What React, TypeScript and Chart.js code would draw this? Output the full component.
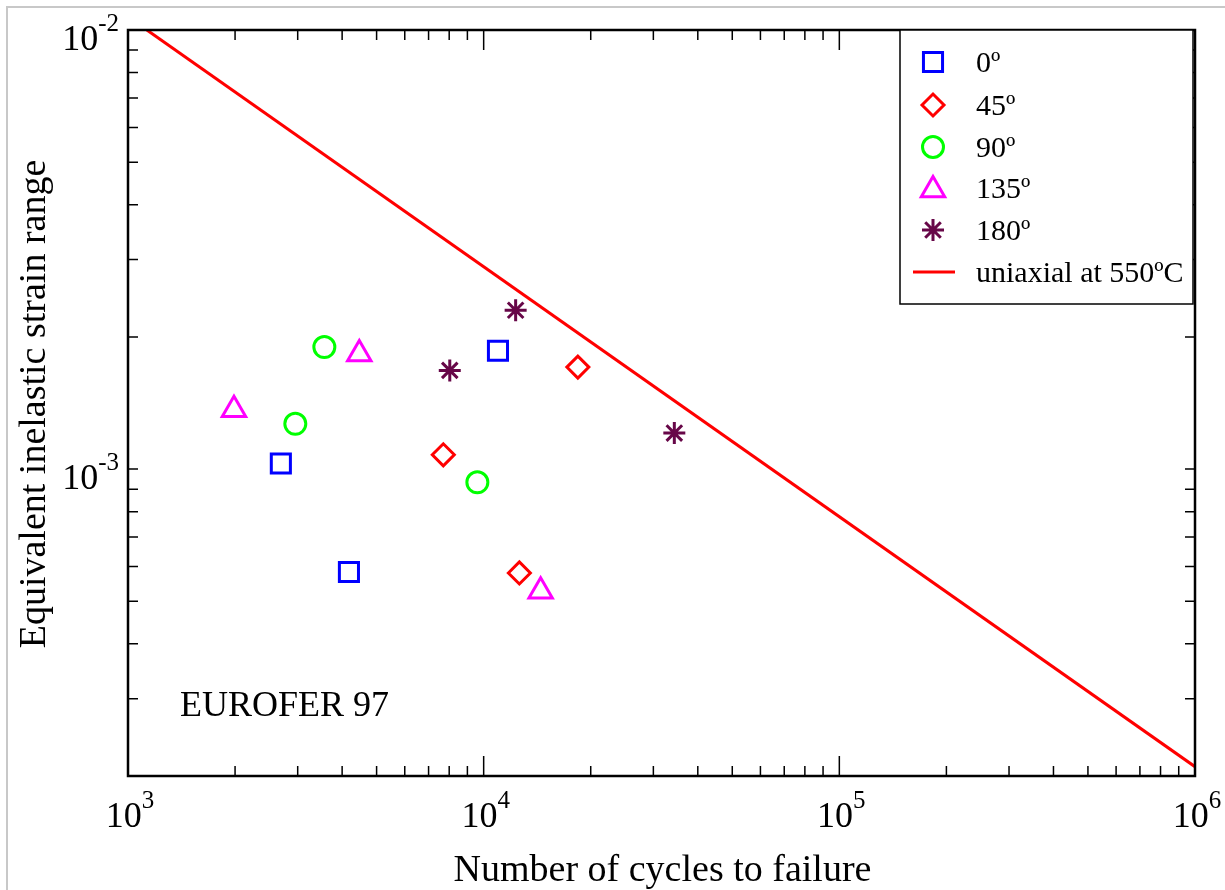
import React, { useEffect, useRef } from "react";
import { Chart, registerables } from "chart.js";

Chart.register(...registerables);

// ---- data ----
const SERIES_LABELS = ["0º", "45º", "90º", "135º", "180º"];
const LINE_LABEL = "uniaxial at 550ºC";

const cycles0 = [2690, 4180, 10970];
const strain0 = [1.03e-3, 5.83e-4, 1.86e-3];

const cycles45 = [7700, 12600, 18400];
const strain45 = [1.078e-3, 5.8e-4, 1.707e-3];

const cycles90 = [3565, 2954, 9600];
const strain90 = [1.896e-3, 1.268e-3, 9.33e-4];

const cycles135 = [4470, 1986, 14460];
const strain135 = [1.828e-3, 1.365e-3, 5.27e-4];

const cycles180 = [12300, 8030, 34360];
const strain180 = [2.3e-3, 1.678e-3, 1.208e-3];

const uniaxialCycles = [1130, 1e6];
const uniaxialStrain = [1.0e-2, 2.1e-4];

const X_TICKS = [1e3, 1e4, 1e5, 1e6];
const X_TICK_EXP = ["3", "4", "5", "6"];
const Y_TICKS = [1e-3, 1e-2];
const Y_TICK_EXP = ["-3", "-2"];

const X_TITLE = "Number of cycles to failure";
const Y_TITLE = "Equivalent inelastic strain range";
const ANNOTATION = "EUROFER 97";

// ---- styles ----
const FONT = '"Liberation Serif", "Times New Roman", Times, serif';
const COLORS = ["#0000ff", "#ff0000", "#00ff00", "#ff00ff", "rgb(103,7,72)"];
const STYLES = ["rect", "rectRot", "circle", "triangle", "star"];
const RADII = [13.5, 11, 10.5, 13.5, 11];

function pts(xs: number[], ys: number[]) {
  return xs.map((x, i) => ({ x, y: ys[i] }));
}

function drawMarker(ctx: CanvasRenderingContext2D, style: string, x: number, y: number, r: number) {
  ctx.beginPath();
  if (style === "rect") {
    const s = Math.SQRT1_2 * r;
    ctx.rect(x - s, y - s, 2 * s, 2 * s);
  } else if (style === "rectRot") {
    ctx.moveTo(x - r, y);
    ctx.lineTo(x, y - r);
    ctx.lineTo(x + r, y);
    ctx.lineTo(x, y + r);
    ctx.closePath();
  } else if (style === "circle") {
    ctx.arc(x, y, r, 0, Math.PI * 2);
    ctx.closePath();
  } else if (style === "triangle") {
    let rad = 0;
    ctx.moveTo(x + Math.sin(rad) * r, y - Math.cos(rad) * r);
    rad += (2 * Math.PI) / 3;
    ctx.lineTo(x + Math.sin(rad) * r, y - Math.cos(rad) * r);
    rad += (2 * Math.PI) / 3;
    ctx.lineTo(x + Math.sin(rad) * r, y - Math.cos(rad) * r);
    ctx.closePath();
  } else if (style === "star") {
    for (let k = 0; k < 4; k++) {
      const a = (k * Math.PI) / 4;
      ctx.moveTo(x - Math.cos(a) * r, y - Math.sin(a) * r);
      ctx.lineTo(x + Math.cos(a) * r, y + Math.sin(a) * r);
    }
  }
  ctx.stroke();
}

function drawPow(ctx: CanvasRenderingContext2D, exp: string, x: number, y: number, align: "center" | "right") {
  ctx.font = `36px ${FONT}`;
  const w1 = ctx.measureText("10").width;
  ctx.font = `25px ${FONT}`;
  const w2 = ctx.measureText(exp).width;
  const total = w1 + w2;
  const x0 = align === "center" ? x - total / 2 : x - total;
  ctx.textAlign = "left";
  ctx.textBaseline = "alphabetic";
  ctx.fillStyle = "#000";
  ctx.font = `36px ${FONT}`;
  ctx.fillText("10", x0, y);
  ctx.font = `25px ${FONT}`;
  ctx.fillText(exp, x0 + w1, y - 19);
}

const decorPlugin = {
  id: "decor",
  afterDatasetsDraw(chart: any) {
    const { ctx, chartArea: a, scales } = chart;
    const xs = scales.x;
    const ys = scales.y;
    ctx.save();

    // page frame (light gray)
    ctx.strokeStyle = "#c8c8c8";
    ctx.lineWidth = 2;
    ctx.beginPath();
    ctx.moveTo(6, 7);
    ctx.lineTo(chart.width, 7);
    ctx.moveTo(7, 6);
    ctx.lineTo(7, chart.height);
    ctx.stroke();

    // ticks
    ctx.strokeStyle = "#000";
    ctx.lineWidth = 1.5;
    ctx.beginPath();
    for (let d = 3; d <= 6; d++) {
      for (let m = 1; m <= 9; m++) {
        const v = m * Math.pow(10, d);
        if (v > xs.max * 1.0001) break;
        const px = xs.getPixelForValue(v);
        const len = m === 1 ? 20 : 10;
        ctx.moveTo(px, a.bottom);
        ctx.lineTo(px, a.bottom - len);
        ctx.moveTo(px, a.top);
        ctx.lineTo(px, a.top + len);
      }
    }
    for (let d = -4; d <= -2; d++) {
      for (let m = 1; m <= 9; m++) {
        const v = m * Math.pow(10, d);
        if (v < ys.min * 0.9999) continue;
        if (v > ys.max * 1.0001) break;
        const py = ys.getPixelForValue(v);
        ctx.moveTo(a.left, py);
        ctx.lineTo(a.left + 10, py);
        ctx.moveTo(a.right, py);
        ctx.lineTo(a.right - 10, py);
      }
    }
    ctx.stroke();

    // axes frame
    ctx.lineWidth = 2.5;
    ctx.strokeRect(a.left, a.top, a.right - a.left, a.bottom - a.top);

    // tick labels
    X_TICKS.forEach((v, i) => drawPow(ctx, X_TICK_EXP[i], xs.getPixelForValue(v) + 2, a.bottom + 51, "center"));
    Y_TICKS.forEach((v, i) => drawPow(ctx, Y_TICK_EXP[i], a.left - 9, ys.getPixelForValue(v) + 20, "right"));

    // axis titles
    ctx.fillStyle = "#000";
    ctx.font = `38px ${FONT}`;
    ctx.textAlign = "center";
    ctx.textBaseline = "alphabetic";
    ctx.fillText(X_TITLE, (a.left + a.right) / 2 + 1, 881);
    ctx.save();
    ctx.translate(45, (a.top + a.bottom) / 2 + 1);
    ctx.rotate(-Math.PI / 2);
    ctx.fillText(Y_TITLE, 0, 0);
    ctx.restore();

    // annotation
    ctx.font = `36px ${FONT}`;
    ctx.textAlign = "left";
    ctx.fillText(ANNOTATION, 180, 716);

    // legend
    const lx = 900;
    const ly = a.top;
    const lw = a.right - 2 - lx;
    const lh = 274;
    ctx.fillStyle = "#fff";
    ctx.fillRect(lx, ly, lw, lh);
    ctx.strokeStyle = "#000";
    ctx.lineWidth = 1.5;
    ctx.strokeRect(lx, ly, lw, lh);
    const rowY = [62, 105, 147, 188, 230, 272];
    chart.data.datasets.forEach((ds: any, i: number) => {
      const y = rowY[i];
      ctx.strokeStyle = ds.borderColor;
      if (i < 5) {
        ctx.lineWidth = 3;
        const yy = ds.pointStyle === "triangle" ? y + 2 : y;
        drawMarker(ctx, ds.pointStyle, 933, yy, ds.pointRadius);
      } else {
        ctx.lineWidth = 3;
        ctx.beginPath();
        ctx.moveTo(913, y);
        ctx.lineTo(955, y);
        ctx.stroke();
      }
      ctx.fillStyle = "#000";
      ctx.font = `30px ${FONT}`;
      ctx.textAlign = "left";
      ctx.textBaseline = "alphabetic";
      ctx.fillText(ds.label, 976, y + 10);
    });

    ctx.restore();
  },
};

export default function App() {
  const canvasRef = useRef<HTMLCanvasElement | null>(null);

  useEffect(() => {
    document.body.style.margin = "0";
    const canvas = canvasRef.current;
    if (!canvas) return;
    const seriesX = [cycles0, cycles45, cycles90, cycles135, cycles180];
    const seriesY = [strain0, strain45, strain90, strain135, strain180];
    const datasets: any[] = SERIES_LABELS.map((label, i) => ({
      label,
      data: pts(seriesX[i], seriesY[i]),
      showLine: false,
      pointStyle: STYLES[i],
      pointRadius: RADII[i],
      pointHoverRadius: RADII[i],
      pointBorderWidth: 3,
      borderColor: COLORS[i],
      backgroundColor: "transparent",
      pointBackgroundColor: "transparent",
    }));
    datasets.push({
      label: LINE_LABEL,
      data: pts(uniaxialCycles, uniaxialStrain),
      showLine: true,
      pointRadius: 0,
      borderColor: "#ff0000",
      borderWidth: 3,
      backgroundColor: "transparent",
    });

    const chart = new Chart(canvas, {
      type: "scatter",
      data: { datasets },
      options: {
        animation: false,
        responsive: false,
        maintainAspectRatio: false,
        events: [],
        layout: { padding: { left: 128, right: 30, top: 30, bottom: 114 } },
        plugins: { legend: { display: false }, tooltip: { enabled: false } },
        scales: {
          x: { type: "logarithmic", min: 1e3, max: 1e6, display: false },
          y: { type: "logarithmic", min: 2e-4, max: 1e-2, display: false },
        },
      },
      plugins: [decorPlugin],
    } as any);
    return () => chart.destroy();
  }, []);

  return (
    <div style={{ width: 1225, height: 890, background: "#fff" }}>
      <canvas ref={canvasRef} width={1225} height={890} style={{ display: "block" }} />
    </div>
  );
}
